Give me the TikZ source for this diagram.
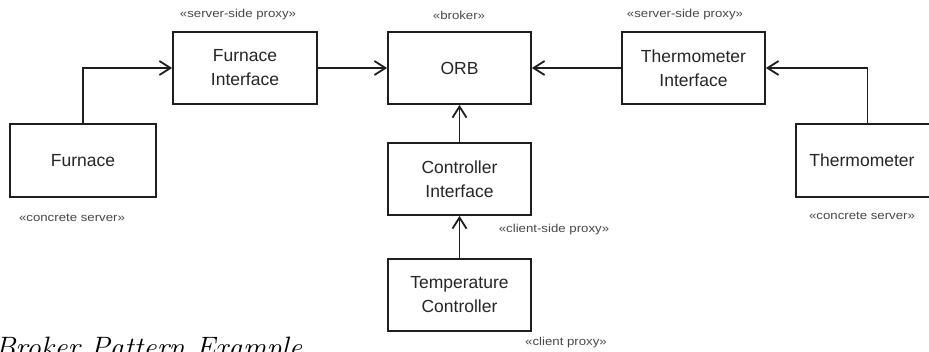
\documentclass[tikz,border=0pt]{standalone}
\usepackage{fontspec}
\usepackage{graphicx}
\newfontfamily\sansfont{Liberation Sans}
\usetikzlibrary{arrows.meta}
\definecolor{linec}{HTML}{1E1E1E}
\definecolor{textc}{HTML}{262626}
\definecolor{stc}{HTML}{484848}
\newcommand{\lab}{\sansfont\fontsize{17.5}{24}\selectfont}
\newcommand{\stfont}{\sansfont\fontsize{11.5}{13}\selectfont}
\newcommand{\st}[1]{\scalebox{1.15}[1]{#1}}
\begin{document}
\begin{tikzpicture}[x=1pt,y=-1pt,
  box/.style={draw=linec, line width=1.8pt, minimum width=143pt, minimum height=72pt,
    inner sep=0pt, align=center, font=\lab, text=textc},
  stereo/.style={font=\stfont, text=stc, inner sep=0pt},
  conn/.style={draw=linec, line width=1.8pt, -{Straight Barb[length=11pt,width=14pt]}}]
\useasboundingbox[fill=white] (0,0) rectangle (929,351);
% boxes
\node[box, minimum width=144pt] (fi) at (245,68) {Furnace\\Interface};
\node[box] (orb) at (459.5,68) {ORB};
\node[box] (ti) at (693.5,68) {Thermometer\\Interface};
\node[box, minimum width=146pt, minimum height=73pt] (fu) at (83,160.5) {Furnace};
\node[box, minimum height=73pt] (th) at (867.5,160.5) {\hspace*{-11pt}Thermometer};
\node[box] (ci) at (459.5,179) {Controller\\Interface};
\node[box] (tc) at (459.5,295) {Temperature\\Controller};
% stereotypes
\node[stereo] (s1) at (238,15) {\st{«server-side proxy»}};
\node[stereo] (s2) at (459,15) {\st{«broker»}};
\node[stereo] (s3) at (685,15) {\st{«server-side proxy»}};
\node[stereo] (s4) at (72,218) {\st{«concrete server»}};
\node[stereo] (s5) at (862,216) {\st{«concrete server»}};
\node[stereo] (s6) at (554,230) {\st{«client-side proxy»}};
\node[stereo] (s7) at (566,343) {\st{«client proxy»}};
% caption (clipped by the page edge, as in the reference)
\node[anchor=base west, inner sep=0pt, font=\fontsize{29.5}{32}\selectfont\itshape, text=black] (cap) at (-5,357) {Broker Pattern Example};
% connectors
\draw[conn] (fu.north) |- (fi.west);
\draw[conn] (fi.east) -- (orb.west);
\draw[conn] (ti.west) -- (orb.east);
\draw[conn] (th.north) |- (ti.east);
\draw[conn] (ci.north) -- (orb.south);
\draw[conn] (tc.north) -- (ci.south);
\end{tikzpicture}
\end{document}
